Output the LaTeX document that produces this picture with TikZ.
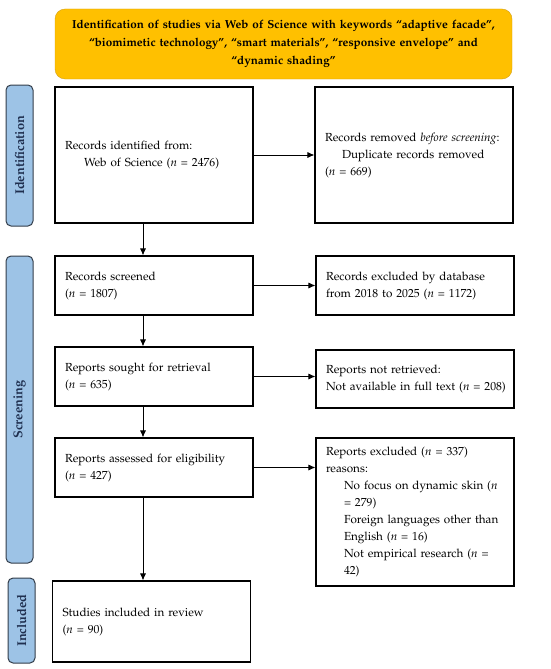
\documentclass[tikz,border=0pt]{standalone}
\usepackage[T1]{fontenc}
\usepackage{mathpazo}
\usetikzlibrary{arrows.meta}
\definecolor{keyorange}{HTML}{FFC000}
\definecolor{keyedge}{HTML}{D4A017}
\definecolor{phaseblue}{HTML}{9DC3E6}
\definecolor{phaseedge}{HTML}{333D4A}
\definecolor{phasetext}{HTML}{1F2F4F}
\newcommand{\nn}{\textit{n}}

\begin{document}
\begin{tikzpicture}[x=1pt,y=-1pt,
	box/.style={draw,line width=1.1pt,text width=178pt,inner xsep=10pt,inner ysep=0pt,align=left,font=\fontsize{11.7}{17}\selectfont},
	phase/.style={draw=phaseedge,fill=phaseblue,text=phasetext,rounded corners=5pt,line width=1pt,rotate=90,minimum height=27pt,inner sep=0pt,font=\bfseries\fontsize{12.8}{14}\selectfont},
	flow/.style={-{Latex[length=7pt,width=6pt]},line width=0.8pt}]
	\useasboundingbox (0,0) rectangle (550,669);
	% keyword search
	\node[draw=keyedge,fill=keyorange,rounded corners=10pt,minimum width=457pt,minimum height=70pt,text width=445pt,align=center,font=\bfseries\fontsize{11.65}{18}\selectfont] (search) at (283.5,44)
		{Identification of studies via Web of Science with keywords ``adaptive facade'',\\
		``biomimetic technology'', ``smart materials'', ``responsive envelope'' and\\
		``dynamic shading''};
	% phases
	\node[phase,minimum width=141pt] (ident) at (19.5,155.5) {Identification};
	\node[phase,minimum width=307pt] (screen) at (19.5,409.5) {Screening};
	\node[phase,minimum width=85pt] (incl) at (21.5,620.5) {Included};
	% boxes
	\node[box,minimum height=136pt] (found) at (154,155)
		{Records identified from:\\\hspace*{19pt}Web of Science (\nn{} = 2476)};
	\node[box,minimum height=136pt] (dupl) at (414,155)
		{Records removed \textit{before screening}:\\\hspace*{17pt}Duplicate records removed\\(\nn{} = 669)};
	\node[box,minimum height=59pt] (screened) at (154,285.5)
		{Records screened\\(\nn{} = 1807)};
	\node[box,minimum height=59pt] (bydb) at (415,285.5)
		{Records excluded by database\\from 2018 to 2025 (\nn{} = 1172)};
	\node[box,minimum height=59pt] (sought) at (154,376.5)
		{Reports sought for retrieval\\(\nn{} = 635)};
	\node[box,minimum height=58pt] (notret) at (415,379)
		{Reports not retrieved:\\\mbox{Not available in full text (\nn{} = 208)}};
	\node[box,minimum height=59pt] (assessed) at (154,467.5)
		{Reports assessed for eligibility\\(\nn{} = 427)};
	\node[box,minimum height=148pt] (excl) at (415,512)
		{Reports excluded (\nn{} = 337)\\reasons:\\
		\hspace*{18pt}No focus on dynamic skin (\nn\\
		\hspace*{18pt}= 279)\\
		\hspace*{18pt}Foreign languages other than\\
		\hspace*{18pt}English (\nn{} = 16)\\
		\hspace*{18pt}Not empirical research (\nn{} =\\
		\hspace*{18pt}42)};
	\node[box,minimum height=81pt] (included) at (151.5,621.5)
		{Studies included in review\\(\nn{} = 90)};
	% arrows
	\draw[flow] (found.east) -- (dupl.west);
	\draw[flow] (screened.east) -- (bydb.west);
	\draw[flow] (sought.east) -- (sought.east -| notret.west);
	\draw[flow] (assessed.east) -- (assessed.east -| excl.west);
	\draw[flow] ([xshift=-11pt]found.south) -- ([xshift=-11pt]found.south |- screened.north);
	\draw[flow] ([xshift=-11pt]screened.south) -- ([xshift=-11pt]screened.south |- sought.north);
	\draw[flow] ([xshift=-11pt]sought.south) -- ([xshift=-11pt]sought.south |- assessed.north);
	\draw[flow] ([xshift=-11pt]assessed.south) -- ([xshift=-11pt]assessed.south |- included.north);
\end{tikzpicture}
\end{document}
